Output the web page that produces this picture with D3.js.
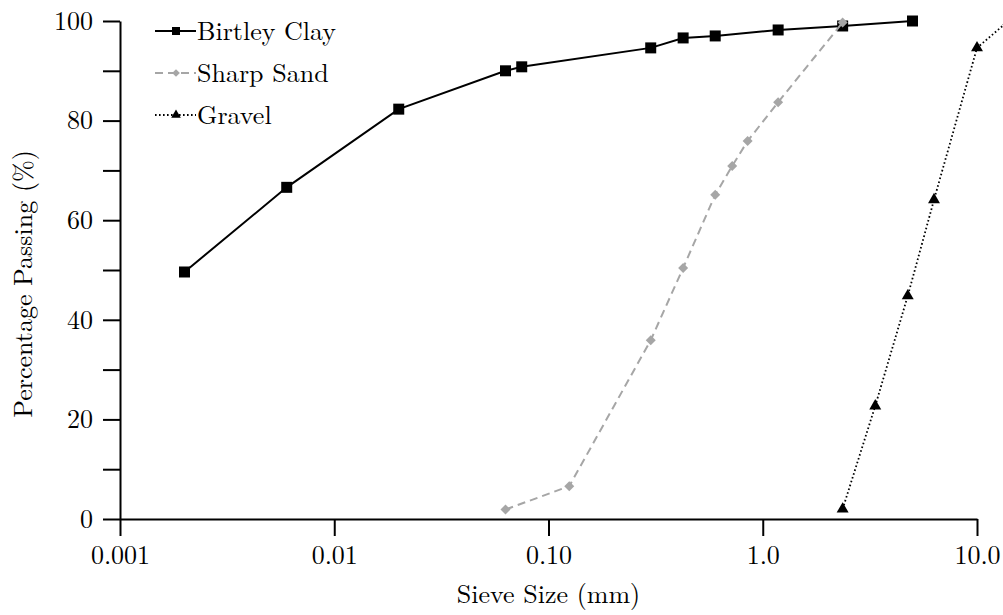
<!DOCTYPE html>
<html>
<head>
<meta charset="utf-8">
<script src="https://cdn.jsdelivr.net/npm/d3@7"></script>
<style>
  html, body { margin: 0; padding: 0; background: #fff; }
  svg { display: block; }
</style>
</head>
<body>
<svg id="chart" width="1003" height="615"></svg>
<script>
// ---- data ----
const seriesNames = ["Birtley Clay", "Sharp Sand", "Gravel"];
const clayX = [0.002, 0.006, 0.02, 0.063, 0.075, 0.3, 0.425, 0.6, 1.18, 2.36, 5.0];
const clayY = [49.6, 66.6, 82.3, 90.0, 90.8, 94.6, 96.6, 97.0, 98.2, 99.0, 100];
const sandX = [0.063, 0.125, 0.3, 0.425, 0.6, 0.72, 0.85, 1.18, 2.36];
const sandY = [1.9, 6.6, 35.9, 50.4, 65.1, 70.9, 75.9, 83.7, 99.7];
const gravelX = [2.36, 3.35, 4.75, 6.3, 10.0, 14.0];
const gravelY = [2.0, 22.7, 44.8, 64.1, 94.6, 100];
const xTickValues = [0.001, 0.01, 0.1, 1, 10];
const xTickLabels = ["0.001", "0.01", "0.10", "1.0", "10.0"];
const yMajorTicks = [0, 20, 40, 60, 80, 100];
const yMinorTicks = [10, 30, 50, 70, 90];

// ---- layout ----
const FONT = '"Latin Modern Roman", "Liberation Serif", serif';
const FS = "26px";
const svg = d3.select("#chart").style("font-family", FONT);
const mLeft = 120, mRight = 977, mTop = 21, mBottom = 519;
const x = d3.scaleLog().domain([0.001, 10]).range([mLeft, mRight]);
const y = d3.scaleLinear().domain([0, 100]).range([mBottom, mTop]);

function styleText(sel) {
  return sel.style("font-family", FONT).style("font-size", FS).style("fill", "#000");
}

// axes
const xAxis = d3.axisBottom(x)
  .tickValues(xTickValues)
  .tickFormat((d, i) => xTickLabels[i])
  .tickSize(17).tickSizeOuter(0).tickPadding(10);
const gx = svg.append("g").attr("transform", `translate(0,${mBottom})`).call(xAxis);
gx.attr("font-family", null).attr("font-size", null);
gx.select(".domain").attr("stroke", "#000").attr("stroke-width", 2);
gx.selectAll(".tick line").attr("stroke", "#000").attr("stroke-width", 2);
styleText(gx.selectAll(".tick text"));

const yAxis = d3.axisLeft(y)
  .tickValues(yMajorTicks.concat(yMinorTicks))
  .tickFormat(d => yMajorTicks.includes(d) ? String(d) : "")
  .tickSize(17).tickSizeOuter(0).tickPadding(10);
const gy = svg.append("g").attr("transform", `translate(${mLeft},0)`).call(yAxis);
gy.attr("font-family", null).attr("font-size", null);
gy.select(".domain").attr("stroke", "#000").attr("stroke-width", 2);
gy.selectAll(".tick line").attr("stroke", "#000").attr("stroke-width", 2);
styleText(gy.selectAll(".tick text"));

// axis titles
styleText(svg.append("text").attr("x", (mLeft + mRight) / 2).attr("y", 603)
  .attr("text-anchor", "middle")).text("Sieve Size (mm)");
styleText(svg.append("text").attr("transform", `translate(32,${(mTop + mBottom) / 2 + 14}) rotate(-90)`)
  .attr("text-anchor", "middle")).text("Percentage Passing (%)");

// series
const GRAY = "#a6a6a6";
const series = [
  { name: seriesNames[0], xs: clayX, ys: clayY, color: "#000", dash: null, sym: d3.symbolSquare, size: 121, rot: 0, lsize: 64 },
  { name: seriesNames[1], xs: sandX, ys: sandY, color: GRAY, dash: "8,5", sym: d3.symbolSquare, size: 50, rot: 45, lsize: 30 },
  { name: seriesNames[2], xs: gravelX, ys: gravelY, color: "#000", dash: "1.6,2.4", sym: d3.symbolTriangle, size: 62, rot: 0, lsize: 40 }
];

const line = d3.line().x(d => x(d[0])).y(d => y(d[1]));
series.forEach(s => {
  const pts = s.xs.map((v, i) => [v, s.ys[i]]);
  svg.append("path").datum(pts).attr("d", line)
    .attr("fill", "none").attr("stroke", s.color).attr("stroke-width", s.name === "Gravel" ? 1.8 : 2)
    .attr("stroke-dasharray", s.dash);
  svg.append("g").selectAll("path").data(pts).join("path")
    .attr("d", d3.symbol().type(s.sym).size(s.size))
    .attr("transform", d => `translate(${x(d[0])},${y(d[1])}) rotate(${s.rot})`)
    .attr("fill", s.color);
});

// legend
const legY = [31, 73, 115];
series.forEach((s, i) => {
  const g = svg.append("g").attr("transform", `translate(155,${legY[i]})`);
  g.append("line").attr("x1", 0).attr("x2", 41).attr("y1", 0).attr("y2", 0)
    .attr("stroke", s.color).attr("stroke-width", s.name === "Gravel" ? 1.8 : 2).attr("stroke-dasharray", s.dash);
  g.append("path").attr("d", d3.symbol().type(s.sym).size(s.lsize)())
    .attr("transform", `translate(21,0) rotate(${s.rot})`).attr("fill", s.color);
  styleText(g.append("text").attr("x", 42).attr("y", 0).attr("dy", "0.33em")).text(s.name);
});
</script>
</body>
</html>
